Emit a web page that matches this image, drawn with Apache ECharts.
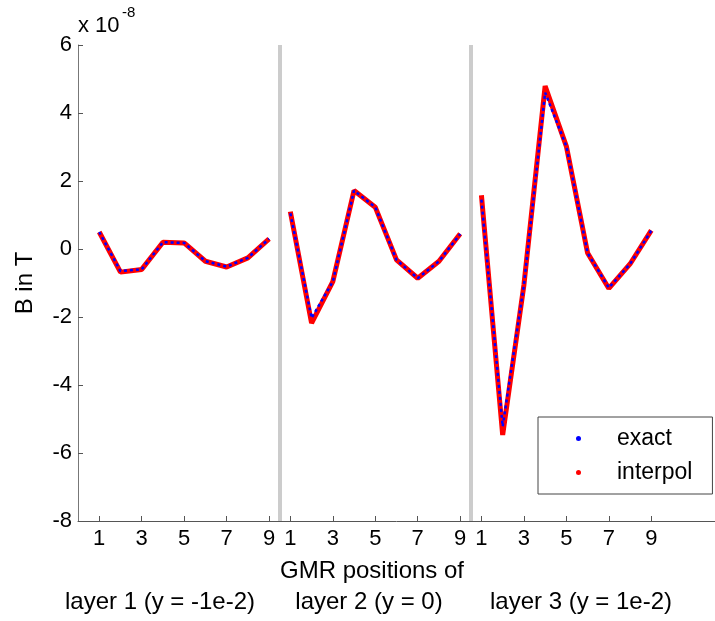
<!DOCTYPE html>
<html>
<head>
<meta charset="utf-8">
<script src="https://cdn.jsdelivr.net/npm/echarts@6/dist/echarts.min.js"></script>
<style>html,body{margin:0;padding:0;background:#fff}#c{width:715px;height:621px}</style>
</head>
<body>
<div id="c"></div>
<script>
// values in units of 1e-8 T, GMR positions 1..9 for each layer
const positions = [1, 2, 3, 4, 5, 6, 7, 8, 9];
const exactLayer1 = [0.5, -0.65, -0.6, 0.2, 0.18, -0.36, -0.52, -0.26, 0.3];
const exactLayer2 = [1.05, -2.03, -0.96, 1.72, 1.23, -0.32, -0.86, -0.36, 0.44];
const exactLayer3 = [1.45, -5.22, -1.06, 4.6, 3.02, -0.12, -1.14, -0.44, 0.54];
const interpLayer1 = [0.5, -0.68, -0.6, 0.2, 0.18, -0.36, -0.53, -0.26, 0.3];
const interpLayer2 = [1.1, -2.18, -0.96, 1.72, 1.23, -0.32, -0.86, -0.36, 0.45];
const interpLayer3 = [1.58, -5.47, -1.06, 4.79, 3.02, -0.12, -1.16, -0.44, 0.55];
const layerLabels = ['layer 1 (y = -1e-2)', 'layer 2 (y = 0)', 'layer 3 (y = 1e-2)'];
const tickPositions = [1, 3, 5, 7, 9];
const yTicks = [-8, -6, -4, -2, 0, 2, 4, 6];

function layerData(arr, li) {
  return arr.map((v, i) => [li * positions.length + positions[i], v]);
}
const exactLayers = [exactLayer1, exactLayer2, exactLayer3];
const interpLayers = [interpLayer1, interpLayer2, interpLayer3];
const xTicks = [];
[0, 1, 2].forEach(li => tickPositions.forEach(p => xTicks.push(li * positions.length + p)));

const FONT = 'Liberation Sans, Arial, sans-serif';
const series = [];
interpLayers.forEach((arr, li) => {
  const s = {
    name: 'interpol', type: 'line', data: layerData(arr, li), showSymbol: false, symbol: 'circle',
    lineStyle: {color: '#ff0000', width: 5}, itemStyle: {color: '#ff0000'}, z: 2
  };
  if (li === 0) {
    s.markLine = {
      silent: true, symbol: 'none', label: {show: false},
      lineStyle: {color: '#cccccc', width: 4, type: 'solid'},
      data: [{xAxis: 9.5}, {xAxis: 18.5}]
    };
  }
  series.push(s);
});
exactLayers.forEach((arr, li) => {
  series.push({
    name: 'exact', type: 'line', data: layerData(arr, li), showSymbol: false, symbol: 'circle',
    lineStyle: {color: '#0000ff', width: 2.5, type: [3, 3]}, itemStyle: {color: '#0000ff'}, z: 3
  });
});

const chart = echarts.init(document.getElementById('c'), null, {renderer: 'canvas'});
chart.setOption({
  animation: false,
  backgroundColor: '#fff',
  grid: {left: 78, top: 45, bottom: 100, right: -6, containLabel: false},
  xAxis: {
    type: 'value', min: 0, max: 30,
    axisLine: {show: true, onZero: false, lineStyle: {color: '#555', width: 1}},
    axisTick: {show: true, inside: true, length: 5, customValues: xTicks, lineStyle: {color: '#555'}},
    axisLabel: {show: true, customValues: xTicks, margin: 7, fontSize: 22, fontFamily: FONT, color: '#000',
      formatter: v => String(((v - 1) % positions.length) + 1)},
    splitLine: {show: false}
  },
  yAxis: {
    type: 'value', min: yTicks[0], max: yTicks[yTicks.length - 1], interval: 2,
    name: 'B in T', nameLocation: 'middle', nameGap: 41, nameRotate: 90,
    nameTextStyle: {fontSize: 24, fontFamily: FONT, color: '#000'},
    axisLine: {show: true, lineStyle: {color: '#777', width: 1}},
    axisTick: {show: true, inside: true, length: 5, lineStyle: {color: '#555'}},
    axisLabel: {fontSize: 22, fontFamily: FONT, color: '#000', margin: 6},
    splitLine: {show: false}
  },
  legend: {
    orient: 'vertical', left: 538, top: 417,
    data: [{name: 'exact', icon: 'circle'}, {name: 'interpol', icon: 'circle'}],
    itemWidth: 5, itemHeight: 5, itemGap: 11,
    padding: [10, 20, 10, 38],
    borderColor: '#444', borderWidth: 1, backgroundColor: '#fff',
    textStyle: {fontSize: 23, fontFamily: FONT, color: '#000', padding: [0, 0, 0, 31]}
  },
  series: series,
  graphic: [
    {type: 'text', x: 78, y: 15, style: {text: 'x 10', fontSize: 22, fontFamily: FONT, fill: '#000'}},
    {type: 'text', x: 122, y: 5, style: {text: '-8', fontSize: 15, fontFamily: FONT, fill: '#000'}},
    {type: 'text', x: 372, y: 559, style: {text: 'GMR positions of', fontSize: 24, fontFamily: FONT, fill: '#000', align: 'center', textAlign: 'center'}},
    {type: 'text', x: 160, y: 590, style: {text: layerLabels[0], fontSize: 24, fontFamily: FONT, fill: '#000', align: 'center', textAlign: 'center'}},
    {type: 'text', x: 369, y: 590, style: {text: layerLabels[1], fontSize: 24, fontFamily: FONT, fill: '#000', align: 'center', textAlign: 'center'}},
    {type: 'text', x: 581, y: 590, style: {text: layerLabels[2], fontSize: 24, fontFamily: FONT, fill: '#000', align: 'center', textAlign: 'center'}}
  ]
});
</script>
</body>
</html>
